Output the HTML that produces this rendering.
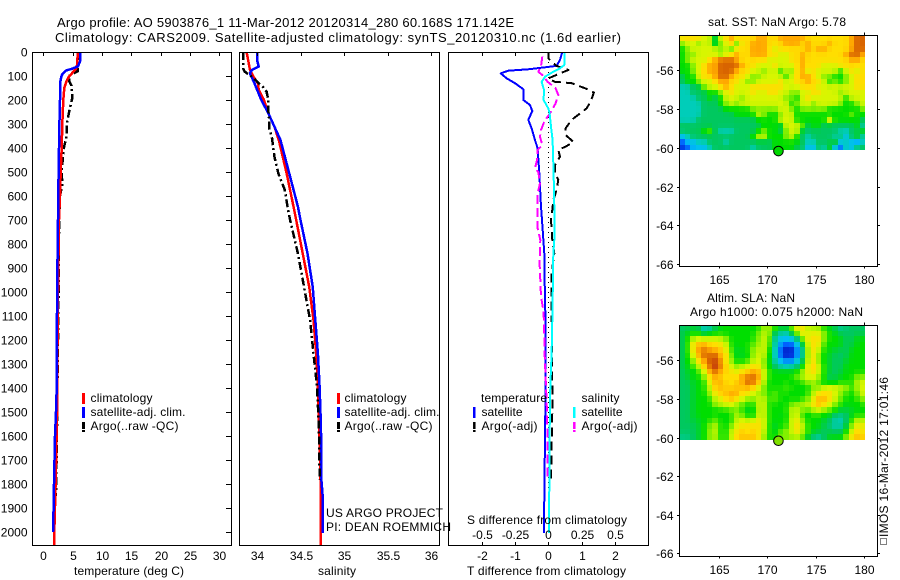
<!DOCTYPE html>
<html lang="en">
<head>
<meta charset="utf-8">
<title>Argo profile 5903876_1</title>
<style>
html,body{margin:0;padding:0;background:#fff;width:900px;height:580px;overflow:hidden}
svg{display:block}
text{font-family:"Liberation Sans",sans-serif;font-size:12px;fill:#000}
</style>
</head>
<body>
<svg id="fig" xmlns="http://www.w3.org/2000/svg" width="900" height="580" viewBox="0 0 900 580">
<rect width="900" height="580" fill="#fff"/>
<g id="panels"></g>
<text x="57" y="27" style="font-size:13px" textLength="457">Argo profile: AO 5903876_1 11-Mar-2012 20120314_280 60.168S 171.142E</text>
<text x="55" y="42" style="font-size:13px" textLength="566">Climatology: CARS2009. Satellite-adjusted climatology: synTS_20120310.nc (1.6d earlier)</text>
<text x="74" y="575" textLength="110">temperature (deg C)</text>
<text x="318" y="575" textLength="38">salinity</text>
<text x="467" y="575" textLength="159">T difference from climatology</text>
<text x="467" y="524" textLength="160">S difference from climatology</text>
<g>
<rect x="82" y="393" width="3" height="11" fill="#f00"/>
<rect x="82" y="407" width="3" height="11" fill="#00f"/>
<path d="M83.5 422V432" stroke="#000" stroke-width="3" stroke-dasharray="7 1 2"/>
<text x="90.500" y="402" textLength="62">climatology</text>
<text x="90.500" y="416" textLength="95">satellite-adj. clim.</text>
<text x="90.500" y="430" textLength="88">Argo(..raw -QC)</text>
</g>
<g>
<rect x="337" y="393" width="3" height="11" fill="#f00"/>
<rect x="337" y="407" width="3" height="11" fill="#00f"/>
<path d="M338.500 422V432" stroke="#000" stroke-width="3" stroke-dasharray="7 1 2"/>
<text x="344.500" y="402" textLength="62">climatology</text>
<text x="344.500" y="416" textLength="95">satellite-adj. clim.</text>
<text x="344.500" y="430" textLength="88">Argo(..raw -QC)</text>
</g>
<text x="326" y="517" textLength="117">US ARGO PROJECT</text>
<text x="326" y="531" textLength="125">PI: DEAN ROEMMICH</text>
<g>
<text x="481" y="402" textLength="66">temperature</text>
<text x="481.500" y="416" textLength="41">satellite</text>
<text x="481.500" y="430" textLength="56">Argo(-adj)</text>
<text x="581.500" y="402" textLength="38">salinity</text>
<text x="581.500" y="416" textLength="41">satellite</text>
<text x="581.500" y="430" textLength="56">Argo(-adj)</text>
<rect x="473" y="407" width="2.500" height="11" fill="#00f"/>
<path d="M474.300 422V432" stroke="#000" stroke-width="2.500" stroke-dasharray="7 1 2"/>
<rect x="573" y="407" width="2.500" height="11" fill="#0ff"/>
<path d="M574.300 422V432" stroke="#f0f" stroke-width="2.500" stroke-dasharray="7 1 2"/>
</g>
<text x="708" y="26" textLength="138">sat. SST: NaN Argo: 5.78</text>
<text x="707" y="302" textLength="88">Altim. SLA: NaN</text>
<text x="690" y="316" textLength="173">Argo h1000: 0.075 h2000: NaN</text>
<rect x="880.500" y="538.500" width="6" height="6" fill="none" stroke="#000" stroke-dasharray="1 1"/>
<text transform="translate(888,537) rotate(-90)" textLength="160">IMOS 16-Mar-2012 17:01:46</text>
</svg>
<script>
// ---- temperature panel data ----
const depthTempClim = [0,50,70,90,100,120,150,200,300,400,500,600,700,1000,1400,1500,1800,2000,2055];
const valueTempClim = [5.86,5.8,5.57,4.83,4.43,3.98,3.58,3.4,3.24,3.13,2.96,2.84,2.67,2.5,2.35,2.35,2.1,1.88,1.82];
const depthTempSat = [0,40,60,70,78,90,100,130,200,300,400,500,600,700,1000,1400,1500,1600,1800,1900,2000];
const valueTempSat = [6.25,6.25,5.9,4.85,3.8,3.3,3.1,2.84,2.84,2.75,2.67,2.6,2.55,2.5,2.35,2.28,2.17,2,1.82,1.75,1.65];
const depthTempArgo = [0,50,80,90,100,120,140,190,250,300,350,400,450,500,550,600,700,1000,1400,1650,1850];
const valueTempArgo = [5.9,5.9,5.9,5,4.4,4.4,4.8,4.95,4.4,3.98,3.98,3.5,3.3,3.1,3.25,2.84,2.7,2.6,2.4,2.3,2.15];
const tempTicks = [0,5,10,15,20,25,30];
const depthTicks = [0,100,200,300,400,500,600,700,800,900,1000,1100,1200,1300,1400,1500,1600,1700,1800,1900,2000];

// ---- salinity panel data ----
const depthSalClim = [0,75,103,130,158,200,255,311,367,505,644,700,839,978,1117,1256,1394,1506,1783,2055];
const valueSalClim = [33.88,33.92,33.96,34.01,34.02,34.08,34.13,34.2,34.25,34.34,34.42,34.45,34.525,34.6,34.65,34.68,34.7,34.71,34.73,34.735];
const depthSalSat = [0,33,61,75,89,130,200,255,311,367,505,644,700,839,978,1117,1256,1394,1506,1650,1783,1853,2005];
const valueSalSat = [34,34,34.02,33.94,33.92,33.97,34.05,34.13,34.2,34.27,34.37,34.47,34.5,34.58,34.64,34.67,34.7,34.72,34.73,34.74,34.74,34.755,34.755];
const depthSalArgo = [0,68,82,103,130,147,165,200,242,283,318,353,436,505,575,644,700,839,978,1117,1256,1394,1506,1630,1783];
const valueSalArgo = [33.84,33.84,33.86,33.94,34.02,34.07,34.11,34.13,34.13,34.14,34.14,34.17,34.2,34.245,34.32,34.35,34.38,34.47,34.54,34.61,34.65,34.69,34.705,34.716,34.72];
const salTicks = ["34","34.5","35","35.5","36"];

// ---- difference panel data ----
const depthDiffTSat = [0,33,58,72,78,89,110,130,155,200,221,246,283,318,367,401,505,644,700,839,1047,1117,1394,1853,2005];
const valueDiffTSat = [0.42,0.35,0.25,-0.6,-1.2,-1.43,-1.25,-1,-0.75,-0.75,-0.55,-0.48,-0.6,-0.5,-0.4,-0.32,-0.27,-0.22,-0.19,-0.12,-0.1,-0.08,-0.08,-0.12,-0.13];
const depthDiffTArgo = [0,26,47,58,75,89,110,124,130,151,169,207,235,283,318,346,374,392,408,436,471,505,533,575,617,658,700,783,839,920,1047,1394,1500,1783];
const valueDiffTArgo = [0,0,0.15,0.25,0.6,0.35,0,0.2,0.7,1.1,1.37,1.27,1.15,0.7,0.52,0.52,0.75,0.55,0.3,0.35,0.2,0.2,0.3,0.25,0.15,0.12,0.08,0.12,0.18,0.1,0.1,0.12,0.12,0.08];
const depthDiffSSat = [0,54,68,82,103,124,158,200,235,255,311,367,505,644,783,839,1047,1117,1256,1394,1600,2005];
const valueDiffSSat = [0.12,0.12,0.0875,0.0375,-0.025,-0.05,-0.0325,-0.035,0,0.01,0.02,0.0325,0.04,0.045,0.045,0.0375,0.0325,0.03,0.025,0.015,0.01,0.005];
const depthDiffSArgo = [19,61,82,96,124,151,179,214,249,290,325,353,388,408,450,485,500,547,589,672,728,783,881,1019,1068,1117,1256,1394,1500,1650,1783];
const valueDiffSArgo = [-0.045,-0.055,-0.075,-0.045,-0.005,0.055,0.075,0.055,0.02,-0.03,-0.055,-0.0625,-0.045,-0.08,-0.085,-0.1,-0.075,-0.0625,-0.08,-0.08,-0.0825,-0.06,-0.065,-0.055,-0.04,-0.0325,-0.0275,-0.0175,-0.01,-0.005,-0.0075];
const diffTTicks = ["-2","-1","0","1","2"];
const diffSTicks = ["-0.5","-0.25","0","0.25","0.5"];

// ---- map data ----
const lonTicks = [165,170,175,180];
const latTicks = [-56,-58,-60,-62,-64,-66];
const argoLon = 171.142;
const argoLat = -60.168;
const sstGrid = [
[8,8,8,8,7,7,4,7,8,9,8,8,8,8,9,9,8,8,9,9,9,9,9,8,8,8,8,8,8,8,8,9,10,10],
[6,7,7,6,7,7,4,6,7,9,5,8,8,9,9,9,8,8,8,9,9,9,8,9,8,8,8,9,8,8,8,9,10,10],
[5,6,7,7,7,7,7,6,7,5,8,8,8,9,9,9,8,7,8,8,8,8,8,9,8,9,9,8,8,8,8,9,10,10],
[5,6,6,7,7,7,7,6,7,8,9,8,8,9,9,9,8,8,7,7,8,8,9,8,8,8,8,8,8,8,9,10,10,9],
[5,6,7,7,7,8,9,10,10,10,9,8,8,8,8,8,7,7,7,7,8,8,9,8,8,8,8,8,8,8,8,9,9,8],
[5,5,6,7,8,9,9,10,10,10,10,9,8,8,7,7,7,8,7,7,7,8,9,8,8,8,7,7,7,8,8,8,8,8],
[5,5,6,7,8,9,9,10,10,10,9,8,8,7,7,6,7,7,5,7,6,8,9,7,8,7,7,7,7,5,7,8,7,8],
[4,5,5,7,8,8,9,10,10,9,8,8,7,6,6,7,7,7,7,5,7,8,9,9,8,7,6,6,5,5,6,7,8,8],
[4,5,5,6,7,7,8,9,9,8,8,7,6,6,7,7,7,7,8,7,7,8,8,9,8,8,7,5,6,5,6,7,8,8],
[3,3,4,4,6,7,7,8,9,8,7,7,7,8,8,8,8,8,8,7,7,7,8,8,8,7,7,7,7,7,7,7,8,8],
[3,3,4,4,4,5,5,6,7,8,7,7,7,8,7,7,8,8,7,7,6,6,7,7,8,8,7,7,7,6,7,7,7,7],
[3,3,3,4,4,5,4,5,7,7,7,6,7,7,7,7,7,7,7,6,6,5,7,8,7,7,7,7,7,7,5,7,7,7],
[3,3,3,3,4,4,4,5,6,7,6,7,7,7,7,7,7,7,7,7,5,6,7,7,6,7,7,7,7,6,5,5,6,7],
[3,3,3,3,4,4,4,4,5,5,5,5,5,6,6,6,6,6,7,7,6,5,6,6,6,6,6,5,5,5,5,5,5,6],
[3,3,3,3,4,4,4,4,4,4,5,5,5,5,7,6,5,5,6,7,7,5,5,5,5,5,5,5,5,5,5,6,5,5],
[3,3,3,4,4,4,4,4,4,4,4,4,4,4,5,5,5,5,7,7,7,5,5,5,5,5,5,8,5,5,5,5,5,4],
[4,4,4,4,4,4,4,4,4,4,4,4,4,4,4,5,5,5,4,7,7,7,6,4,5,5,4,4,4,4,4,4,5,3],
[4,4,4,4,5,6,4,3,3,3,4,4,4,4,5,6,5,5,4,6,7,7,4,4,4,4,4,4,4,3,3,4,4,5],
[2,3,4,4,4,4,4,4,4,4,4,4,4,5,7,7,5,5,5,6,7,5,4,3,4,4,4,4,3,4,2,4,5,3],
[1,2,2,3,3,4,4,4,3,4,4,4,4,4,4,4,4,5,5,5,5,5,4,3,3,4,4,4,5,2,3,2,1,3],
[0.5,1,2,2,2,3,4,4,4,4,4,4,4,3,4,4,4,5,5,5,5,4,4,2,2,4,3,5,2,1,3,2,4,4]
];
const slaGrid = [
[4,4,4,5,2,3,4,5,5,5,5,5,5,5,5,6,7,5,5,4,6,8,8,6,7,6,5,5,4,3,4,4,4,4],
[4,5,5,5,4,5,5,5,5,5,5,5,5,5,6,7,6,4,3,3,4,6,8,7,7,8,6,5,5,4,4,4,4,4],
[4,5,7,7,7,7,7,7,6,5,5,5,5,5,6,7,6,3,2,2,2,3,6,8,8,8,6,5,5,5,4,4,5,5],
[4,5,8,9,9,8,8,8,7,5,5,5,5,6,6,7,6,3,1.5,1,1,2,4,7,8,8,5,5,5,5,4,4,5,5],
[4,5,8,9,10,9,9,8,8,5,4.5,5,5,6,7,7,5,3,1,0,0,1.5,3,7,8,7,5,5,4.5,4,4,5,5,5],
[4,5,7,9,10,10,10,9,8,6,4.5,4.5,5,6,7,7,5,3,1,0,0,1.5,3,7,8,6,5,4.5,4,4,4,5,5,5],
[4,5,6,8,9,10,11,9,8,6,5,5,5,7,7,6,5,3,2,1.5,1.5,2,4,7,8,6,5,4.5,4,4,4.5,5,5,5],
[4,5,5,7,8,10,11,10,8,7,6,7,7,8,8,6,5,4,3,3,3,4,5,7,9,7,5,4.5,4,4,5,5,5,5],
[4,4.5,5,5,7,9,10,9,8,8,7,8,8,9,9,7,5,5,5,5,5,5,6,8,8,7,5,4.5,4,4,5,5,5,5],
[4,4.5,5,5,6,8,9,8,8,8,8,9,10,10,9,7,5,5,5,5,5,6,7,7,7,7,5,4,4,5,5,5,6,6],
[4,4,4.5,5,5,7,9,9,8,8,8,9,10,10,9,6,5,5,5,5,5,5,5,6,7,5,5,4,5,5,5,5,7,7],
[4,4,4.5,5,5,7,8,9,8,8,9,8,9,8,7,6,5,5,5,6,5,5,5,5,6,6,7,8,7,7,7,5,6,7.5],
[4,4,4.5,5,5,6,8,8,9,9,9,8,8,7,6,6,5,6,5,5,5,5,5,5,7,8,8,8,7,6,5,5,6,7],
[4,4,4.5,5,5,5,7,7,8,9,8,7,6,6,7,7,5,6,5,5,5,5,5,6,7,9,9,8,7,6,5,5,5,6.5],
[4,4,4.5,5,5,5,6,7,7,7,6,6,5,5,7,7,5,5,5,5,6,6,7,7,8,9,8,7,6,5,5,5,5,5],
[4,4,4.5,5,5,5,5,5,5,6,6,5,5,4.5,7,7,5,5,5,5,7,7,6,5,7,7,6,6,5,5,4,4.5,5,5],
[4,4,4.5,5,5,5,5,5,5,5,7,6,4.5,4.5,7,7,5,5,5,4.5,7,7,5,5,5,5,5,4.5,4,3,4,5,5,5],
[4,4,4.5,4.5,5,5,6,5,5,5,7,7,7,7,8,7,5,5,5,5,7,8,6,5,5,5,4.5,4,3,3,4,5,7,7],
[4,4,4,4.5,5,6,7,5,5,6,7,8,8,8,8,7,5,4.5,5,5,7,8,7,5,5,5,4,4,3,3,4,6,8,7],
[4,4,4,4.5,5,6,7,5,5,7,8,8,8,8,8,7,5,4.5,6,6,7,8,7,5,5,4.5,4,4,4,4,5,7,8,8],
[3.5,3.5,4,4.5,5,6,7,5,5,7,8,9,8,9,8,6,5,5,6,6,6,7,5,5,3,3,4,5,5,4.5,6,8,9,8]
];

const NS = 'http://www.w3.org/2000/svg';
const root = document.getElementById('panels');
function mk(tag, attrs, parent) {
  const el = document.createElementNS(NS, tag);
  for (const k in attrs) el.setAttribute(k, attrs[k]);
  (parent || root).appendChild(el);
  return el;
}

// axis functions
const yDepth = d => 52 + 0.24 * d;
const xTemp = t => 43.3 + 5.87 * t;
const xSal = s => 257 + 87 * (s - 34);
const xDiffT = v => 548.3 + 33.3 * v;
const xDiffS = v => 548.3 + 133.2 * v;
const xLon = lon => 719.3 + 9.63 * (lon - 165);
const yLatA = lat => 70.3 + 19.37 * (-56 - lat);
const yLatB = lat => 360.3 + 19.3 * (-56 - lat);

function box(name, x0, x1, y0, y1) {
  const r = mk('rect', {x: x0, y: y0, width: x1 - x0, height: y1 - y0, fill: 'none', stroke: '#000', 'stroke-width': 1, 'shape-rendering': 'crispEdges'});
  
  
}
function seg(name, x1, y1, x2, y2) {
  const l = mk('line', {x1: x1, y1: y1, x2: x2, y2: y2, stroke: '#000', 'stroke-width': 1, 'shape-rendering': 'crispEdges'});
  
  
}
function label(name, txt, x, y, anchor) {
  const t = mk('text', {x: x, y: y, 'text-anchor': anchor});
  t.textContent = txt;
  
  
}
function curve(name, xs, ys, xf, color, width, dash) {
  const pts = xs.map((v, i) => xf(v).toFixed(1) + ',' + yDepth(ys[i]).toFixed(1)).join(' ');
  const attrs = {points: pts, fill: 'none', stroke: color, 'stroke-width': width, 'shape-rendering': 'crispEdges', 'stroke-linejoin': 'round'};
  if (dash) attrs['stroke-dasharray'] = dash;
  const p = mk('polyline', attrs);
  
  
}

// curves
curve('temperature-argo-line', valueTempArgo, depthTempArgo, xTemp, '#000', 2.5, '8 3 2 3');
curve('temperature-climatology-line', valueTempClim, depthTempClim, xTemp, '#f00', 2.5);
curve('temperature-satellite-line', valueTempSat, depthTempSat, xTemp, '#00f', 2.5);

curve('salinity-climatology-line', valueSalClim, depthSalClim, xSal, '#f00', 2.5);
curve('salinity-satellite-line', valueSalSat, depthSalSat, xSal, '#00f', 2.5);
curve('salinity-argo-line', valueSalArgo, depthSalArgo, xSal, '#000', 2.5, '8 3 2 3');

curve('zero-difference-line', [0, 0], [0, 2000], xDiffT, '#000', 1, '1 4');
curve('t-difference-satellite-line', valueDiffTSat, depthDiffTSat, xDiffT, '#00f', 2);
curve('t-difference-argo-line', valueDiffTArgo, depthDiffTArgo, xDiffT, '#000', 2, '9 5');
curve('s-difference-argo-line', valueDiffSArgo, depthDiffSArgo, xDiffS, '#f0f', 2, '9 4');
curve('s-difference-satellite-line', valueDiffSSat, depthDiffSSat, xDiffS, '#0ff', 2);

// temperature axes
box('temperature-plot-frame', 32.5, 231.5, 52.5, 545.5);
depthTicks.forEach(d => {
  const y = Math.round(yDepth(d)) + 0.5;
  seg('depth-tick', 226, y, 231, y);
  label('depth-tick-label', String(d), 27.5, y + 4, 'end');
});
tempTicks.forEach(t => {
  const x = Math.round(xTemp(t)) + 0.5;
  seg('temperature-tick', x, 53, x, 56);
  label('temperature-tick-label', String(t), x, 560, 'middle');
});

// salinity axes
box('salinity-plot-frame', 239.5, 439.5, 52.5, 545.5);
salTicks.forEach(s => {
  const x = Math.round(xSal(parseFloat(s))) + 0.5;
  seg('salinity-tick', x, 53, x, 56);
  label('salinity-tick-label', s, x, 560, 'middle');
});

// difference axes
box('difference-plot-frame', 448.5, 648.5, 52.5, 545.5);
diffTTicks.forEach((s, i) => {
  const x = Math.round(xDiffT(parseFloat(s))) + 0.5;
  seg('difference-top-tick', x, 53, x, 56);
  seg('difference-bottom-tick', x, 542, x, 545);
  label('t-difference-tick-label', s, x, 560, 'middle');
  label('s-difference-tick-label', diffSTicks[i], x, 539, 'middle');
});

// heatmap colour scale
const stopColors = [[0,20,190],[0,90,255],[0,190,245],[0,205,185],[0,200,95],[0,222,0],[130,240,0],[215,246,0],[255,222,0],[255,168,0],[216,100,0],[190,45,15]];
function colorOf(v) {
  const c = Math.max(0, Math.min(stopColors.length - 1.001, v));
  const i = Math.floor(c), f = c - i;
  const a = stopColors[i], b = stopColors[i + 1];
  return 'rgb(' + a.map((q, k) => Math.round(q + (b[k] - q) * f)).join(',') + ')';
}
// display value softened with the four neighbouring cells (weight 0 = raw)
function cellValue(grid, r, c, w) {
  if (!w) return grid[r][c];
  let sum = grid[r][c], n = 1;
  [[r - 1, c], [r + 1, c], [r, c - 1], [r, c + 1]].forEach(p => {
    if (grid[p[0]] && grid[p[0]][p[1]] !== undefined) { sum += w * grid[p[0]][p[1]]; n += w; }
  });
  return sum / n;
}

function map(prefix, grid, yLat, top, bottom, dotColor, lonY, smooth) {
  const lon0 = 160.85, dLon = 19.3 / 34, lat0 = -54.19, dLat = 5.93 / 21;
  grid.forEach((row, r) => {
    row.forEach((v, c) => {
      const x0 = Math.round(xLon(lon0 + c * dLon));
      const x1 = Math.round(xLon(lon0 + (c + 1) * dLon));
      const y0 = Math.round(yLat(lat0 - r * dLat));
      const y1 = Math.round(yLat(lat0 - (r + 1) * dLat));
      const cell = mk('rect', {x: x0, y: y0, width: x1 - x0, height: y1 - y0, fill: colorOf(cellValue(grid, r, c, smooth)), 'shape-rendering': 'crispEdges'});
      
      
    });
  });
  box(prefix + '-map-frame', 679.5, 877.5, top, bottom);
  lonTicks.forEach(lon => {
    const x = Math.round(xLon(lon)) + 0.5;
    seg('map-top-tick', x, top - 3, x, top);
    seg('map-bottom-tick', x, bottom, x, bottom + 2);
    label('longitude-tick-label', String(lon), x, lonY, 'middle');
  });
  latTicks.forEach(lat => {
    const y = Math.round(yLat(lat)) + 0.5;
    seg('map-left-tick', 677, y, 679.5, y);
    seg('map-right-tick', 877.5, y, 880, y);
    label('latitude-tick-label', String(lat), 673.5, y + 4.5, 'end');
  });
  const dot = mk('circle', {cx: xLon(argoLon), cy: yLat(argoLat), r: 4.8, fill: dotColor, stroke: '#000', 'stroke-width': 1});
  
  
}
map('sst', sstGrid, yLatA, 35.5, 266.5, '#00d800', 284, 0.15);
map('sla', slaGrid, yLatB, 325.5, 556.5, '#80e000', 574, 0.5);
</script>
</body>
</html>
